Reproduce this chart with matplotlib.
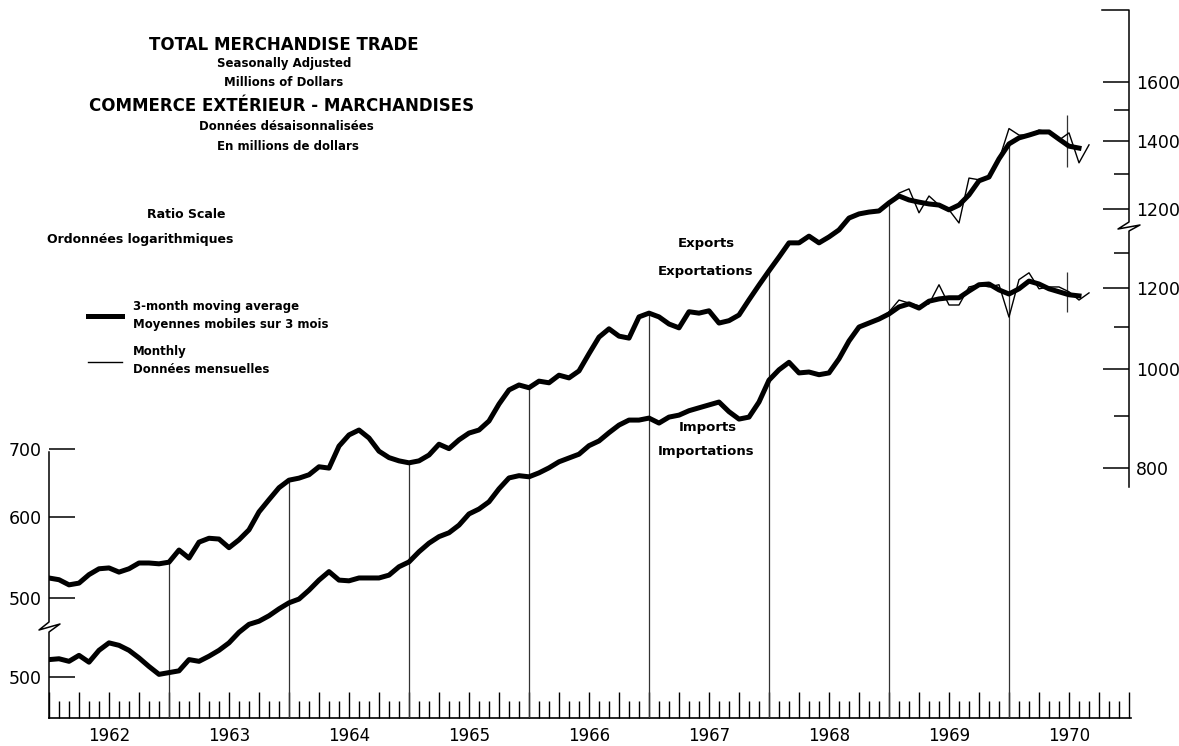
import numpy as np
import matplotlib
matplotlib.use("Agg")
import matplotlib.pyplot as plt
from matplotlib.lines import Line2D
from matplotlib.ticker import FixedLocator, NullFormatter, NullLocator

plt.rcParams['font.family'] = ['DejaVu Sans']

# months counted from January 1962 (= 0), 3-month moving averages, millions of dollars
months = np.arange(104)
exports_ma = [523, 521, 515, 517, 527, 534, 535, 530, 534, 541, 541, 540,
              542, 557, 547, 567, 572, 571, 560, 570, 583, 607, 624, 641,
              652, 655, 660, 672, 670, 704, 722, 730, 717, 696, 686, 681,
              678, 681, 690, 707, 700, 714, 725, 730, 745, 774, 799, 808,
              803, 815, 812, 826, 821, 834, 867, 900, 917, 902, 898, 942,
              950, 942, 927, 919, 953, 950, 955, 929, 934, 946, 979, 1012,
              1045, 1078, 1113, 1113, 1130, 1113, 1128, 1146, 1177, 1188, 1193, 1196,
              1218, 1237, 1226, 1220, 1215, 1212, 1199, 1212, 1240, 1280, 1291, 1345,
              1391, 1410, 1419, 1429, 1429, 1406, 1384, 1378]
imports_ma = [520, 521, 518, 525, 517, 531, 540, 537, 531, 522, 512, 503,
              505, 507, 520, 518, 524, 531, 540, 553, 563, 567, 574, 583,
              591, 596, 608, 622, 634, 622, 621, 625, 625, 625, 629, 641,
              648, 663, 676, 686, 692, 704, 722, 730, 742, 764, 783, 787,
              785, 792, 801, 812, 819, 826, 842, 851, 867, 882, 892, 892,
              896, 886, 898, 902, 911, 917, 923, 929, 909, 894, 898, 929,
              976, 999, 1016, 992, 994, 988, 992, 1024, 1066, 1100, 1110, 1120,
              1133, 1151, 1159, 1148, 1166, 1172, 1175, 1175, 1193, 1210, 1212, 1196,
              1185, 1199, 1220, 1212, 1199, 1191, 1183, 1180]

# monthly figures (only shown from Dec 1968 on)
monthly_months = np.arange(83, 105)
exports_monthly = [1196, 1218, 1245, 1257, 1191, 1237, 1212, 1199, 1164, 1288, 1283,
                   1291, 1342, 1440, 1419, 1419, 1435, 1429, 1403, 1426, 1333, 1388]
imports_monthly = [1120, 1138, 1169, 1161, 1154, 1159, 1210, 1156, 1156, 1204, 1210,
                   1204, 1210, 1125, 1224, 1243, 1199, 1204, 1204, 1191, 1169, 1188]

years = list(range(1962, 1971))

exp_left_ticks = [500, 600, 700]
exp_right_ticks = [1200, 1400, 1600]
exp_right_minor = [1300, 1500]
imp_left_ticks = [500]
imp_right_ticks = [800, 1000, 1200]
imp_right_minor = [900, 1100, 1300]

# short marks near the end of the series
mark_month = 101.8
exp_mark = [1320, 1484]
imp_mark = [1138, 1245]

W, H = 1179, 746
fig = plt.figure(figsize=(W / 100, H / 100), dpi=100)
rect = [49 / W, (H - 718) / H, (1129 - 49) / W, 708 / H]

ax_exp = fig.add_axes(rect)
ax_imp = fig.add_axes(rect, sharex=ax_exp)
ax_imp.set_facecolor('none')
ax_exp_r = ax_exp.twinx()
ax_imp_r = ax_imp.twinx()

exp_lim = (381.5, 1881)
imp_lim = (455.9, 2247)
for a, lim in [(ax_exp, exp_lim), (ax_exp_r, exp_lim), (ax_imp, imp_lim), (ax_imp_r, imp_lim)]:
    a.set_yscale('log')
    a.set_ylim(*lim)
    for s in a.spines.values():
        s.set_visible(False)
    a.yaxis.set_minor_locator(NullLocator())
ax_exp.set_xlim(0, 108)

# y ticks
def set_ticks(a, major, minor=None):
    a.yaxis.set_major_locator(FixedLocator(major))
    a.set_yticklabels([str(v) for v in major])
    if minor:
        a.yaxis.set_minor_locator(FixedLocator(minor))
        a.yaxis.set_minor_formatter(NullFormatter())
    a.tick_params(axis='y', which='major', direction='in', length=19, width=1.1,
                  labelsize=12.5, pad=5)
    a.tick_params(axis='y', which='minor', direction='in', length=11, width=1.1)

set_ticks(ax_exp, exp_left_ticks)
set_ticks(ax_imp, imp_left_ticks)
set_ticks(ax_exp_r, exp_right_ticks, exp_right_minor)
set_ticks(ax_imp_r, imp_right_ticks, imp_right_minor)

# month ticks along the time axis
ax_imp.xaxis.set_visible(False)
ax_exp.xaxis.set_major_locator(FixedLocator(range(0, 109, 3)))
ax_exp.xaxis.set_minor_locator(FixedLocator([m for m in range(109) if m % 3]))
ax_exp.tick_params(axis='x', which='major', direction='in', length=19, width=1, labelbottom=False)
ax_exp.tick_params(axis='x', which='minor', direction='in', length=12, width=1)
ax_exp.plot([0, 108.2], [0, 0], transform=ax_exp.get_xaxis_transform(),
            clip_on=False, color='black', lw=1.2)
for k, yr in enumerate(years):
    ax_exp.text(12 * k + 6, -0.0254, str(yr), transform=ax_exp.get_xaxis_transform(),
                ha='center', va='center', fontsize=12)

# year lines up to the exports curve
year_months = [12 * k for k in range(1, len(years))]
ax_exp.vlines(year_months, exp_lim[0], [exports_ma[m] for m in year_months],
              color='#333333', lw=0.9)
ax_exp.vlines(mark_month, exp_mark[0], exp_mark[1], color='#333333', lw=0.9)
ax_imp.vlines(mark_month, imp_mark[0], imp_mark[1], color='#333333', lw=0.9)

# series
thick, = ax_exp.plot(months, exports_ma, color='black', lw=3.6, solid_joinstyle='round', zorder=3)
thin, = ax_exp.plot(monthly_months, exports_monthly, color='black', lw=1.0, zorder=3)
ax_imp.plot(months, imports_ma, color='black', lw=3.6, solid_joinstyle='round', zorder=3)
ax_imp.plot(monthly_months, imports_monthly, color='black', lw=1.0, zorder=3)

# axis lines with breaks, in pixels
def px_line(xs, ys, lw=1.1):
    fig.add_artist(Line2D([x / W for x in xs], [1 - y / H for y in ys], color='black', lw=lw))

px_line([49, 49, 39, 60, 49, 49], [452, 622, 630, 624, 632, 718])
px_line([1102, 1129, 1129, 1118, 1140, 1129, 1129], [10, 10, 222, 229, 225, 231, 487])

# titles and labels
def label(x, y, s, size=8.5):
    fig.text(x / W, 1 - y / H, s, ha='center', va='center', fontsize=size, fontweight='bold')

label(284, 45, "TOTAL MERCHANDISE TRADE", 12)
label(284, 64, "Seasonally Adjusted")
label(284, 83, "Millions of Dollars")
label(282, 106, "COMMERCE EXTÉRIEUR - MARCHANDISES", 12)
label(286, 127, "Données désaisonnalisées")
label(288, 146, "En millions de dollars")
label(186, 214, "Ratio Scale", 9)
label(140, 240, "Ordonnées logarithmiques", 9)
label(706, 244, "Exports", 9.5)
label(706, 272, "Exportations", 9.5)
label(708, 427, "Imports", 9.5)
label(706, 452, "Importations", 9.5)

leg = fig.legend(handles=[thick, thin],
                 labels=["3-month moving average\nMoyennes mobiles sur 3 mois",
                         "Monthly\nDonnées mensuelles"],
                 loc='upper left', bbox_to_anchor=(88 / W, 1 - 300 / H), frameon=False,
                 prop={'size': 8.5, 'weight': 'bold'}, handlelength=2.9,
                 handletextpad=0.9, labelspacing=1.2, borderaxespad=0, borderpad=0)
for t in leg.get_texts():
    t.set_linespacing(1.5)

fig.savefig('out.png', dpi=100)
